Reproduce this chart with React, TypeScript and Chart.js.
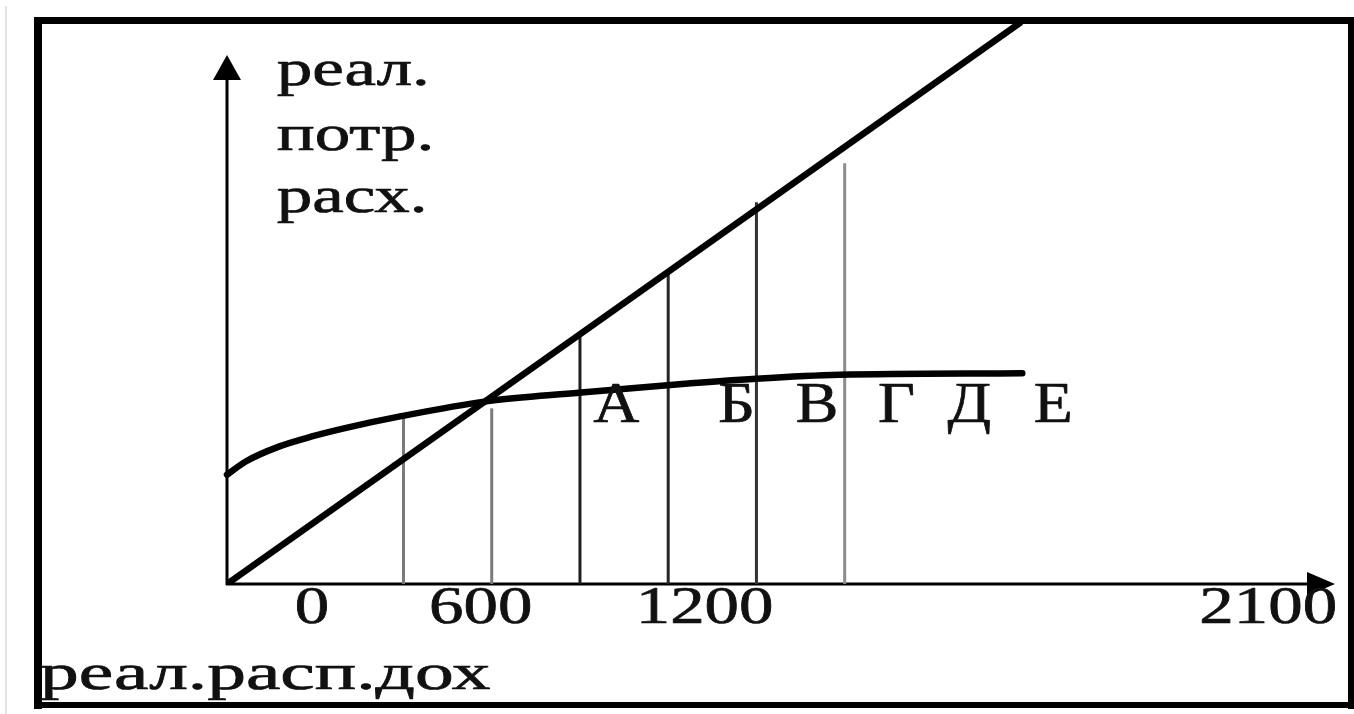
import { useEffect, useRef } from "react";
import { Chart, registerables } from "chart.js";

Chart.register(...registerables);

// ---- data (schematic units) ----
const diagonalX = [0, 72];
const diagonalY = [0, 72];
const consumptionX = [0, 1.7, 4.7, 7.7, 10.8, 15.8, 23.5, 31.9, 41.0, 48.0, 55.5, 72.1];
const consumptionY = [14.0, 15.7, 17.6, 18.9, 20.0, 21.5, 23.4, 24.5, 25.6, 26.3, 26.8, 27.0];
const dropX = [16, 24, 32, 40, 48, 56];
const dropTop = [21.6, 22.5, 32, 40, 48.9, 53.9];
const dropColors = ["#7a7a7a", "#7a7a7a", "#1e1e1e", "#262626", "#333333", "#8c8c8c"];
const xTickLabels = ["0", "600", "1200", "2100"];
const xTickValues = [7.7, 23.0, 43.3, 94.4];
const pointLetters = ["А", "Б", "В", "Г", "Д", "Е"];
const letterX = [35.3, 46.2, 53.5, 60.7, 67.3, 74.9];
const letterY = 20.8;
const yTitleLines = ["реал.", "потр.", "расх."];
const yTitleBaselines = [63.9, 55.6, 47.7];
const yTitleX = 4.5;
const xTitle = "реал.расп.дох";

const SERIF = '"Liberation Serif", "DejaVu Serif", serif';

function stretched(ctx: CanvasRenderingContext2D, text: string, x: number, y: number, sx: number, align: CanvasTextAlign) {
  ctx.save();
  ctx.translate(x, y);
  ctx.scale(sx, 1);
  ctx.textAlign = align;
  ctx.textBaseline = "alphabetic";
  ctx.lineWidth = 0.7;
  ctx.lineJoin = "round";
  ctx.strokeStyle = "#111";
  ctx.fillText(text, 0, 0);
  ctx.strokeText(text, 0, 0);
  ctx.restore();
}

const decorPlugin = {
  id: "decor",
  beforeDatasetsDraw(chart: any) {
    const ctx: CanvasRenderingContext2D = chart.ctx;
    const xs = chart.scales.x;
    const ys = chart.scales.y;
    const x0 = xs.getPixelForValue(0);
    const y0 = ys.getPixelForValue(0);
    ctx.save();
    // faint left edge line
    ctx.fillStyle = "#e2e2e2";
    ctx.fillRect(5, 6, 2, 708);
    // frame
    ctx.fillStyle = "#000";
    ctx.fillRect(34, 17, 1320, 7);
    ctx.fillRect(34, 17, 8, 692);
    ctx.fillRect(1348, 17, 6, 692);
    ctx.fillRect(34, 702, 1320, 6);
    // axes
    ctx.strokeStyle = "#000";
    ctx.lineWidth = 3;
    const yTip = 55;
    const xTip = xs.right + 5;
    ctx.beginPath();
    ctx.moveTo(x0, y0 + 1);
    ctx.lineTo(x0, yTip + 10);
    ctx.moveTo(x0 - 1, y0);
    ctx.lineTo(xTip - 10, y0);
    ctx.stroke();
    ctx.fillStyle = "#000";
    ctx.beginPath();
    ctx.moveTo(x0, yTip);
    ctx.lineTo(x0 - 14, yTip + 25);
    ctx.lineTo(x0 + 14, yTip + 25);
    ctx.closePath();
    ctx.fill();
    ctx.beginPath();
    ctx.moveTo(xTip, y0);
    ctx.lineTo(xTip - 28, y0 - 12);
    ctx.lineTo(xTip - 28, y0 + 12);
    ctx.closePath();
    ctx.fill();
    ctx.restore();
  },
  afterDatasetsDraw(chart: any) {
    const ctx: CanvasRenderingContext2D = chart.ctx;
    const xs = chart.scales.x;
    const ys = chart.scales.y;
    const y0 = ys.getPixelForValue(0);
    ctx.save();
    ctx.fillStyle = "#111";
    // x tick labels
    ctx.font = `53px ${SERIF}`;
    xTickLabels.forEach((t, i) => {
      stretched(ctx, t, xs.getPixelForValue(xTickValues[i]), y0 + 39, 1.3, "center");
    });
    // letters
    ctx.font = `57px ${SERIF}`;
    pointLetters.forEach((t, i) => {
      stretched(ctx, t, xs.getPixelForValue(letterX[i]), ys.getPixelForValue(letterY), 1.12, "center");
    });
    // y title
    ctx.font = `50px ${SERIF}`;
    yTitleLines.forEach((t, i) => {
      stretched(ctx, t, xs.getPixelForValue(yTitleX), ys.getPixelForValue(yTitleBaselines[i]), 1.42, "left");
    });
    // x title
    ctx.font = `50px ${SERIF}`;
    stretched(ctx, xTitle, 40, 689, 1.55, "left");
    ctx.restore();
  },
};

export default function App() {
  const ref = useRef<HTMLCanvasElement | null>(null);
  useEffect(() => {
    document.body.style.margin = "0";
    const canvas = ref.current;
    if (!canvas) return;
    const datasets: any[] = [
      {
        label: "diagonal",
        data: diagonalX.map((x, i) => ({ x, y: diagonalY[i] })),
        borderColor: "#000",
        borderWidth: 6.5,
        showLine: true,
        pointRadius: 0,
        borderCapStyle: "butt",
      },
      {
        label: "consumption",
        data: consumptionX.map((x, i) => ({ x, y: consumptionY[i] })),
        borderColor: "#000",
        borderWidth: 6.5,
        showLine: true,
        pointRadius: 0,
        cubicInterpolationMode: "monotone",
        borderCapStyle: "round",
        clip: false,
      },
      ...dropX.map((x, i) => ({
        label: "drop" + i,
        data: [
          { x, y: 0 },
          { x, y: dropTop[i] },
        ],
        borderColor: dropColors[i],
        borderWidth: 3,
        showLine: true,
        pointRadius: 0,
        clip: false,
      })),
    ];
    const chart = new Chart(canvas, {
      type: "scatter",
      data: { datasets },
      options: {
        animation: false,
        responsive: false,
        devicePixelRatio: 1,
        layout: { padding: { left: 227, right: 24, top: 22, bottom: 130 } },
        plugins: { legend: { display: false }, tooltip: { enabled: false } },
        scales: {
          x: { type: "linear", min: 0, max: 100, display: false },
          y: { type: "linear", min: 0, max: 72, display: false },
        },
      },
      plugins: [decorPlugin],
    });
    return () => chart.destroy();
  }, []);
  return (
    <div style={{ position: "absolute", left: 0, top: 0, width: 1354, height: 714, background: "#fff" }}>
      <canvas ref={ref} width={1354} height={714} style={{ display: "block" }} />
    </div>
  );
}
